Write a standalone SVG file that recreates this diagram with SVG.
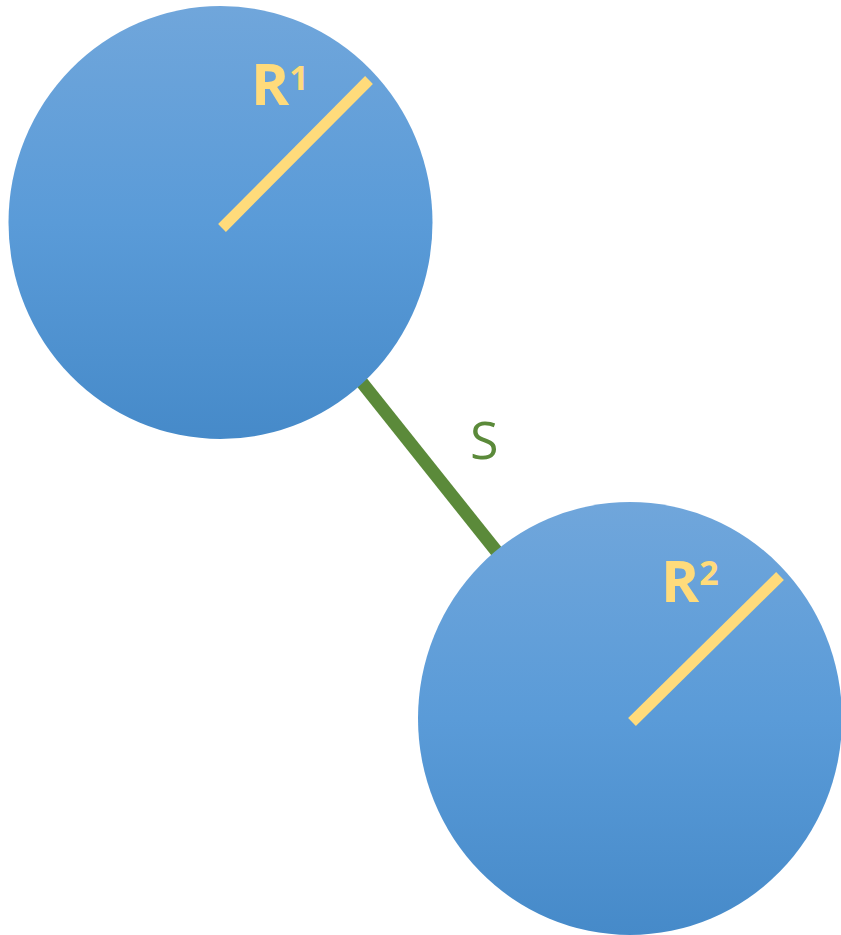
<svg xmlns="http://www.w3.org/2000/svg" width="841" height="935" viewBox="0 0 841 935">
<defs>
<linearGradient id="blue" x1="0" y1="0" x2="0" y2="1">
<stop offset="0" stop-color="#70a6db"/>
<stop offset="0.5" stop-color="#5a9bd8"/>
<stop offset="1" stop-color="#468ac9"/>
</linearGradient>
</defs>
<style>
.ball{fill:url(#blue);}
.rad{stroke:#ffdb7b;stroke-width:11;stroke-linecap:butt;}
.lbl{font-family:"Open Sans","Liberation Sans",sans-serif;fill:#ffdb7b;font-weight:bold;}
.sv{font-family:"Open Sans","Liberation Sans",sans-serif;fill:#5b8a3a;}
</style>
<g id="connectors">
<line x1="352" y1="370" x2="505" y2="562" stroke="#5b8a3a" stroke-width="13"/>
</g>
<g id="sphere1">
<ellipse class="ball" cx="220.5" cy="222.5" rx="212" ry="216.5"/>
<line class="rad" x1="222" y1="228" x2="369" y2="80"/>
<text class="lbl" x="251" y="105" font-size="58">R<tspan font-size="34" dy="-15">1</tspan></text>
</g>
<g id="sphere2">
<ellipse class="ball" cx="630" cy="718.5" rx="212" ry="216.5"/>
<line class="rad" x1="632" y1="722" x2="780" y2="576"/>
<text class="lbl" x="661" y="602" font-size="58">R<tspan font-size="34" dy="-17">2</tspan></text>
</g>
<g id="label-s">
<text class="sv" x="470" y="459" font-size="52">S</text>
</g>
</svg>
